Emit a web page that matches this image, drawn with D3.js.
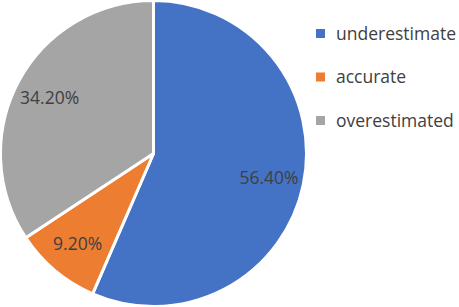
<!DOCTYPE html>
<html>
<head>
<meta charset="utf-8">
<script src="https://cdn.jsdelivr.net/npm/d3@7"></script>
<style>
  body { margin: 0; background: #fff; }
  text { font-family: "Open Sans", "Noto Sans", sans-serif; }
</style>
</head>
<body>
<svg></svg>
<script>
const categories = ["underestimate", "accurate", "overestimated"];
const values = [56.4, 9.2, 34.2];
const labels = ["56.40%", "9.20%", "34.20%"];
const colors = ["#4472C4", "#ED7D31", "#A5A5A5"];

const width = 459, height = 307;
const svg = d3.select("svg").attr("width", width).attr("height", height);

// Pie
const cx = 153.5, cy = 153.5, r = 153;
const g = svg.append("g").attr("transform", `translate(${cx}, ${cy})`);

const pie = d3.pie().sort(null).value(d => d.value);
const data = pie(categories.map((c, i) => ({ name: c, value: values[i], label: labels[i] })));

const arc = d3.arc().innerRadius(0).outerRadius(r);
const labelArc = d3.arc().innerRadius(118).outerRadius(118);

g.selectAll("path")
  .data(data)
  .join("path")
    .attr("d", arc)
    .attr("fill", (d, i) => colors[i])
    .attr("stroke", "#fff")
    .attr("stroke-width", 3)
    .attr("stroke-linejoin", "round");

g.selectAll("text")
  .data(data)
  .join("text")
    .attr("transform", d => `translate(${labelArc.centroid(d)})`)
    .attr("text-anchor", "middle")
    .attr("dy", "0.35em")
    .attr("font-size", 17.5)
    .attr("fill", "#404040")
    .text(d => d.data.label);

// Legend
const legend = svg.append("g").attr("transform", "translate(316, 0)");
const rowY = d3.scalePoint().domain(categories).range([33.5, 120.5]);

const item = legend.selectAll("g")
  .data(categories)
  .join("g")
    .attr("transform", d => `translate(0, ${rowY(d)})`);

item.append("rect")
  .attr("x", 0).attr("y", -4.5)
  .attr("width", 9).attr("height", 9)
  .attr("fill", (d, i) => colors[i]);

item.append("text")
  .attr("x", 20)
  .attr("dy", "0.35em")
  .attr("font-size", 17.5)
  .attr("fill", "#404040")
  .text(d => d);
</script>
</body>
</html>
